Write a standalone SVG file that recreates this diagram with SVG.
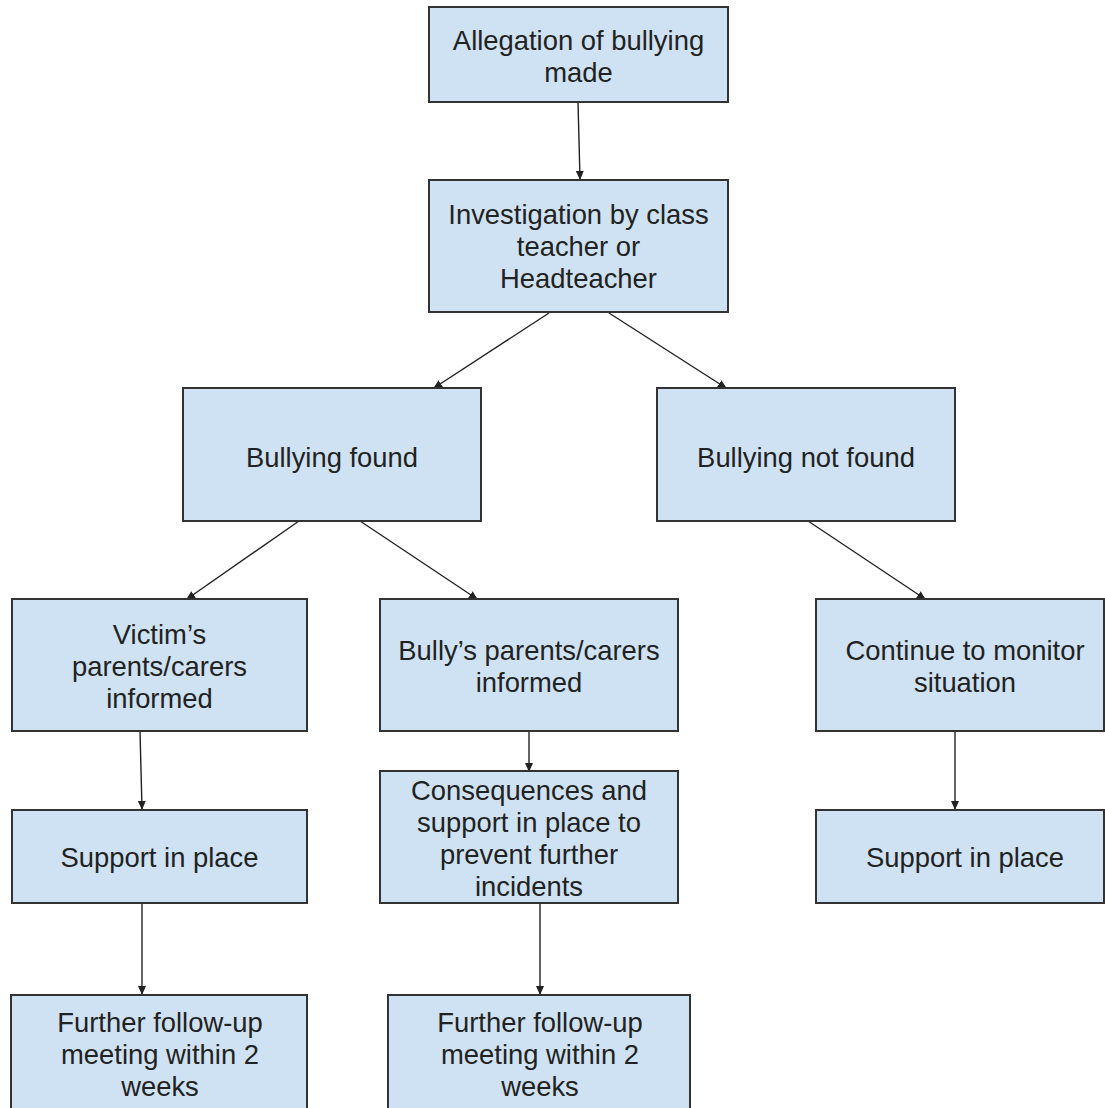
<svg xmlns="http://www.w3.org/2000/svg" width="1105" height="1108" viewBox="0 0 1105 1108">
<style>
.box{fill:#cfe2f3;stroke:#333;stroke-width:2}
.lbl{font-family:"Liberation Sans",Arial,sans-serif;font-size:27.4px;fill:#222;text-anchor:middle}
.con{stroke:#222;stroke-width:1.4;fill:none;marker-end:url(#ah)}
</style>
<defs>
<marker id="ah" markerWidth="9" markerHeight="9" refX="8" refY="4.5" orient="auto" markerUnits="userSpaceOnUse">
<path d="M0,0.5 L9,4.5 L0,8.5 Z" fill="#222"/>
</marker>
</defs>
<rect width="1105" height="1108" fill="#fff"/>
<g id="connectors">
<line class="con" x1="578" y1="102" x2="580" y2="179"/>
<line class="con" x1="549" y1="313" x2="434" y2="388"/>
<line class="con" x1="609" y1="313" x2="726" y2="388"/>
<line class="con" x1="299" y1="521" x2="187" y2="599"/>
<line class="con" x1="360" y1="521" x2="477" y2="599"/>
<line class="con" x1="808" y1="521" x2="925" y2="599"/>
<line class="con" x1="140" y1="731" x2="142" y2="809"/>
<line class="con" x1="529" y1="731" x2="529" y2="771"/>
<line class="con" x1="955" y1="731" x2="955" y2="809"/>
<line class="con" x1="142" y1="903" x2="142" y2="994"/>
<line class="con" x1="540" y1="903" x2="540" y2="994"/>
</g>
<g id="n1"><rect class="box" x="429" y="7" width="299" height="95"/>
<text class="lbl"><tspan x="578.5" y="49.5">Allegation of bullying</tspan><tspan x="578.5" y="81.5">made</tspan></text></g>
<g id="n2"><rect class="box" x="429" y="180" width="299" height="132"/>
<text class="lbl"><tspan x="578.5" y="223.5">Investigation by class</tspan><tspan x="578.5" y="255.5">teacher or</tspan><tspan x="578.5" y="287.5">Headteacher</tspan></text></g>
<g id="n3"><rect class="box" x="183" y="388" width="298" height="133"/>
<text class="lbl"><tspan x="332" y="466.5">Bullying found</tspan></text></g>
<g id="n4"><rect class="box" x="657" y="388" width="298" height="133"/>
<text class="lbl"><tspan x="806" y="466.5">Bullying not found</tspan></text></g>
<g id="n5"><rect class="box" x="12" y="599" width="295" height="132"/>
<text class="lbl"><tspan x="159.5" y="643.5">Victim’s</tspan><tspan x="159.5" y="675.5">parents/carers</tspan><tspan x="159.5" y="707.5">informed</tspan></text></g>
<g id="n6"><rect class="box" x="380" y="599" width="298" height="132"/>
<text class="lbl"><tspan x="529" y="659.5">Bully’s parents/carers</tspan><tspan x="529" y="691.5">informed</tspan></text></g>
<g id="n7"><rect class="box" x="816" y="599" width="288" height="132"/>
<text class="lbl"><tspan x="965" y="659.5">Continue to monitor</tspan><tspan x="965" y="691.5">situation</tspan></text></g>
<g id="n8"><rect class="box" x="12" y="810" width="295" height="93"/>
<text class="lbl"><tspan x="159.5" y="866.5">Support in place</tspan></text></g>
<g id="n9"><rect class="box" x="380" y="771" width="298" height="132"/>
<text class="lbl"><tspan x="529" y="799.5">Consequences and</tspan><tspan x="529" y="831.5">support in place to</tspan><tspan x="529" y="863.5">prevent further</tspan><tspan x="529" y="895.5">incidents</tspan></text></g>
<g id="n10"><rect class="box" x="816" y="810" width="288" height="93"/>
<text class="lbl"><tspan x="965" y="866.5">Support in place</tspan></text></g>
<g id="n11"><rect class="box" x="11" y="995" width="296" height="120"/>
<text class="lbl"><tspan x="160" y="1031.5">Further follow-up</tspan><tspan x="160" y="1063.5">meeting within 2</tspan><tspan x="160" y="1095.5">weeks</tspan></text></g>
<g id="n12"><rect class="box" x="388" y="995" width="302" height="120"/>
<text class="lbl"><tspan x="540" y="1031.5">Further follow-up</tspan><tspan x="540" y="1063.5">meeting within 2</tspan><tspan x="540" y="1095.5">weeks</tspan></text></g>
</svg>
